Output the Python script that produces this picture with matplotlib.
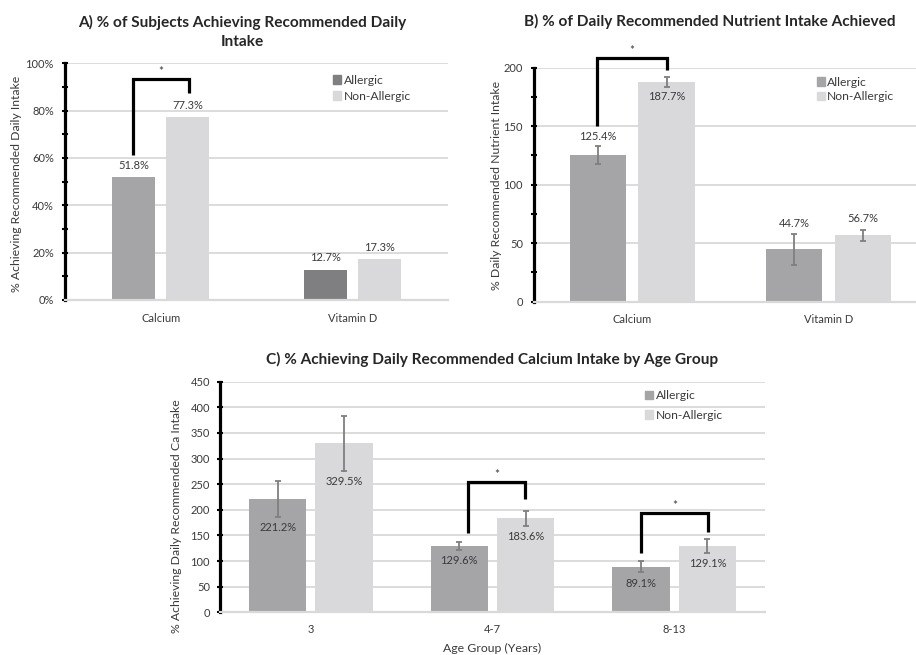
import matplotlib
matplotlib.use('Agg')
import matplotlib.pyplot as plt
import numpy as np
from matplotlib.ticker import MultipleLocator, FuncFormatter
from matplotlib.patches import Patch

plt.rcParams['font.family'] = ['Lato', 'DejaVu Sans']

# ---------------- data ----------------
a_categories = ['Calcium', 'Vitamin D']
a_allergic = [51.8, 12.7]
a_nonallergic = [77.3, 17.3]

b_categories = ['Calcium', 'Vitamin D']
b_allergic = [125.4, 44.7]
b_allergic_err = [8.0, 13.0]
b_nonallergic = [187.7, 56.7]
b_nonallergic_err = [4.5, 4.5]

c_categories = ['3', '4-7', '8-13']
c_allergic = [221.2, 129.6, 89.1]
c_allergic_err = [35.0, 8.0, 11.0]
c_nonallergic = [329.5, 183.6, 129.1]
c_nonallergic_err = [53.0, 15.0, 13.0]

series_names = ['Allergic', 'Non-Allergic']

# ---------------- style ----------------
W, H = 916, 655
C_ALL = '#A5A5A8'
C_NON = '#D9D9DB'
C_DARK = '#7F7F82'
C_ERR = '#7F7F7F'
C_TXT = '#3A3A3A'
C_TTL = '#262626'
GRID = '#D9D9D9'
FS_TICK = 8
FS_LAB = 8
FS_AX = 8.8
FS_LEG = 8.7
FS_TTL = 11.1

fig = plt.figure(figsize=(W / 100, H / 100), dpi=100)


def px_axes(l, t, r, b):
    return [l / W, 1 - b / H, (r - l) / W, (b - t) / H]


def ftext(x, y, s, **kw):
    fig.text(x / W, 1 - y / H, s, **kw)


def style_axes(ax, ymax, major, minor, fmt, ypad, xpad):
    ax.set_ylim(0, ymax)
    ax.yaxis.set_major_locator(MultipleLocator(major))
    if minor:
        ax.yaxis.set_minor_locator(MultipleLocator(minor))
    ax.yaxis.set_major_formatter(FuncFormatter(fmt))
    for s in ['top', 'right']:
        ax.spines[s].set_visible(False)
    ax.spines['left'].set_linewidth(2.3)
    ax.spines['left'].set_color('black')
    ax.spines['bottom'].set_color(GRID)
    ax.spines['bottom'].set_linewidth(1.6)
    ax.set_axisbelow(True)
    ax.yaxis.grid(True, color=GRID, linewidth=1.3)
    ax.tick_params(axis='y', which='both', direction='inout', length=5,
                   width=1.5, color='black', labelsize=FS_TICK,
                   labelcolor=C_TXT, pad=ypad)
    ax.tick_params(axis='x', length=0, labelsize=FS_TICK, labelcolor=C_TXT,
                   pad=xpad)


def ppu(ax):
    lo, hi = ax.get_ylim()
    return ax.bbox.height / (hi - lo)


def bracket(ax, xl, xr, yl, yr, gl, gr, rise):
    k = ppu(ax)
    y1 = yl + gl / k
    y2 = yr + gr / k
    yt = max(y1, y2) + rise / k
    ax.plot([xl, xl, xr, xr], [y1, yt, yt, y2], color='black', lw=2.3,
            solid_joinstyle='miter', solid_capstyle='butt', clip_on=False,
            zorder=5)
    ax.annotate('*', ((xl + xr) / 2, yt), xytext=(0, 1.5),
                textcoords='offset points', ha='center', va='bottom',
                fontsize=8.5, color=C_TXT, annotation_clip=False)


def label(ax, x, y, s, dy_px):
    ax.annotate(s, (x, y), xytext=(0, dy_px * 0.72), textcoords='offset points',
                ha='center', va='center', fontsize=FS_LAB, color=C_TXT,
                annotation_clip=False, zorder=6)


def legend(ax, handles, x, y, spacing):
    ax.legend(handles=handles, labels=series_names, loc='upper left',
              bbox_to_anchor=(x / W, 1 - y / H), bbox_transform=fig.transFigure,
              frameon=False, fontsize=FS_LEG, handlelength=0.65, handleheight=0.7,
              handletextpad=0.22, borderpad=0, borderaxespad=0,
              labelspacing=spacing, labelcolor=C_TXT)


pct = lambda v, p: f'{v:.0f}%'
num = lambda v, p: f'{v:.0f}'

# ---------------- Panel A ----------------
axA = fig.add_axes(px_axes(65, 63.3, 448, 300))
style_axes(axA, 100, 20, 10, pct, 5.5, 9)
xa = np.arange(len(a_categories))
wa, oa = 0.222, 0.141
axA.bar(xa - oa, a_allergic, wa, color=[C_ALL, C_DARK])
axA.bar(xa + oa, a_nonallergic, wa, color=C_NON)
axA.set_xlim(-0.5, len(a_categories) - 0.5)
axA.set_xticks(xa)
axA.set_xticklabels(a_categories)
for i in range(len(xa)):
    label(axA, xa[i] - oa, a_allergic[i], f'{a_allergic[i]:.1f}%', 12)
    label(axA, xa[i] + oa, a_nonallergic[i], f'{a_nonallergic[i]:.1f}%', 12)
bracket(axA, xa[0] - 0.146, xa[0] + 0.146, a_allergic[0], a_nonallergic[0],
        22, 24, 14)
legend(axA, [Patch(color=C_DARK), Patch(color=C_NON)], 333, 74.5, 0.42)
ftext(242, 31.5, 'A) % of Subjects Achieving Recommended Daily\nIntake',
      ha='center', va='center', fontsize=FS_TTL, fontweight='bold', color=C_TTL,
      linespacing=1.45)
ftext(16.7, 184, '% Achieving Recommended Daily Intake', rotation=90,
      ha='center', va='center', fontsize=FS_AX, color=C_TXT)

# ---------------- Panel B ----------------
axB = fig.add_axes(px_axes(534, 67.7, 926.7, 301.7))
style_axes(axB, 200, 50, 25, num, 5.5, 9)
xb = np.arange(len(b_categories))
wb, ob = 0.288, 0.175
axB.bar(xb - ob, b_allergic, wb, color=C_ALL)
axB.bar(xb + ob, b_nonallergic, wb, color=C_NON)
axB.errorbar(xb - ob, b_allergic, yerr=b_allergic_err, fmt='none',
             ecolor=C_ERR, elinewidth=1.3, capsize=2, capthick=1.3)
axB.errorbar(xb + ob, b_nonallergic, yerr=b_nonallergic_err, fmt='none',
             ecolor=C_ERR, elinewidth=1.3, capsize=2, capthick=1.3)
axB.set_xlim(-0.5, len(b_categories) - 0.5)
axB.set_xticks(xb)
axB.set_xticklabels(b_categories)
label(axB, xb[0] - ob, b_allergic[0] + b_allergic_err[0], f'{b_allergic[0]:.1f}%', 9)
label(axB, xb[0] + ob, b_nonallergic[0] - b_nonallergic_err[0], f'{b_nonallergic[0]:.1f}%', -9)
label(axB, xb[1] - ob, b_allergic[1] + b_allergic_err[1], f'{b_allergic[1]:.1f}%', 11)
label(axB, xb[1] + ob, b_nonallergic[1] + b_nonallergic_err[1], f'{b_nonallergic[1]:.1f}%', 12)
bracket(axB, xb[0] - 0.178, xb[0] + 0.178,
        b_allergic[0] + b_allergic_err[0], b_nonallergic[0] + b_nonallergic_err[0],
        19.7, 6.8, 11.7)
legend(axB, [Patch(color=C_ALL), Patch(color=C_NON)], 816.7, 76.5, 0.31)
ftext(710, 21, 'B) % of Daily Recommended Nutrient Intake Achieved',
      ha='center', va='center', fontsize=FS_TTL, fontweight='bold', color=C_TTL)
ftext(496.7, 185, '% Daily Recommended Nutrient Intake', rotation=90,
      ha='center', va='center', fontsize=FS_AX, color=C_TXT)

# ---------------- Panel C ----------------
axC = fig.add_axes(px_axes(220, 381.7, 765, 612.3))
style_axes(axC, 450, 50, None, num, 4.7, 8.5)
xc = np.arange(len(c_categories))
wc, oc = 0.316, 0.183
axC.bar(xc - oc, c_allergic, wc, color=C_ALL)
axC.bar(xc + oc, c_nonallergic, wc, color=C_NON)
axC.errorbar(xc - oc, c_allergic, yerr=c_allergic_err, fmt='none',
             ecolor=C_ERR, elinewidth=1.3, capsize=2, capthick=1.3)
axC.errorbar(xc + oc, c_nonallergic, yerr=c_nonallergic_err, fmt='none',
             ecolor=C_ERR, elinewidth=1.3, capsize=2, capthick=1.3)
axC.set_xlim(-0.5, len(c_categories) - 0.5)
axC.set_xticks(xc)
axC.set_xticklabels(c_categories)
for i in range(len(xc)):
    label(axC, xc[i] - oc, c_allergic[i] - c_allergic_err[i], f'{c_allergic[i]:.1f}%', -11)
    label(axC, xc[i] + oc, c_nonallergic[i] - c_nonallergic_err[i], f'{c_nonallergic[i]:.1f}%', -11)
bracket(axC, xc[1] - 0.136, xc[1] + 0.18,
        c_allergic[1] + c_allergic_err[1], c_nonallergic[1] + c_nonallergic_err[1],
        8.4, 11.2, 17)
bracket(axC, xc[2] - 0.182, xc[2] + 0.186,
        c_allergic[2] + c_allergic_err[2], c_nonallergic[2] + c_nonallergic_err[2],
        7.6, 7.6, 19.2)
legend(axC, [Patch(color=C_ALL), Patch(color=C_NON)], 645, 390, 0.72)
ftext(492, 359, 'C) % Achieving Daily Recommended Calcium Intake by Age Group',
      ha='center', va='center', fontsize=FS_TTL, fontweight='bold', color=C_TTL)
ftext(176.7, 516, '% Achieving Daily Recommended Ca Intake', rotation=90,
      ha='center', va='center', fontsize=FS_AX, color=C_TXT)
ftext(492, 648, 'Age Group (Years)', ha='center', va='center',
      fontsize=FS_AX, color=C_TXT)

fig.savefig('out.png', dpi=100)
